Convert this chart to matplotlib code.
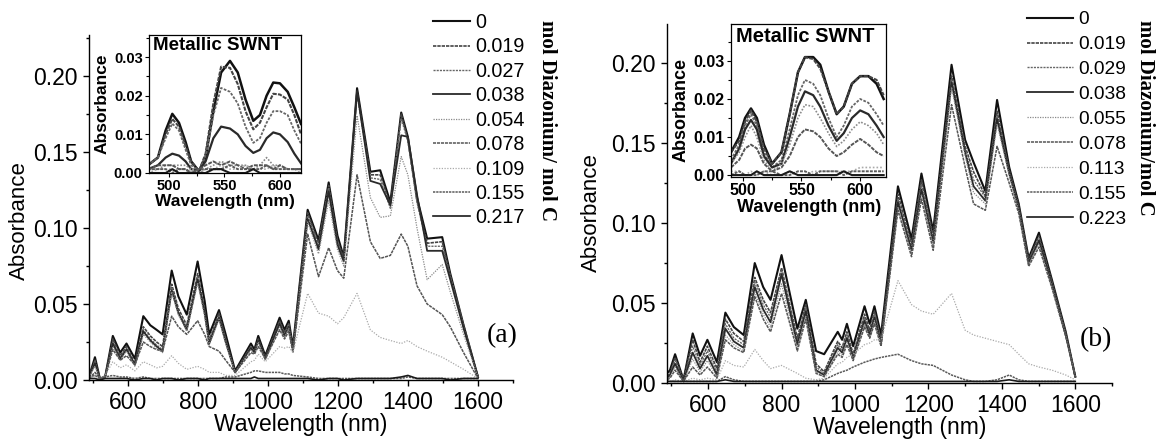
import numpy as np
import matplotlib.pyplot as plt
from matplotlib.ticker import MultipleLocator

plt.rcParams['font.family'] = ['Liberation Sans', 'DejaVu Sans']
plt.rcParams['lines.solid_joinstyle'] = 'round'
plt.rcParams['lines.dash_joinstyle'] = 'round'

# ---- panel (a): full spectra ----
wl_a = [490, 507, 521, 536, 558, 579, 597, 621, 645, 665, 683, 700, 726, 745, 769,
        800, 820, 833, 861, 880, 907, 952, 962, 973, 993, 1034, 1048, 1060, 1072,
        1114, 1145, 1174, 1199, 1217, 1255, 1293, 1321, 1350, 1381, 1400, 1426,
        1455, 1498, 1521, 1559, 1600]
a_0 = [0.002, 0.015, 0.001, 0.002, 0.029, 0.018, 0.024, 0.014, 0.042, 0.036, 0.033, 0.030,
       0.072, 0.055, 0.043, 0.078, 0.052, 0.030, 0.046, 0.030, 0.006, 0.024, 0.020, 0.029,
       0.016, 0.041, 0.033, 0.039, 0.022, 0.112, 0.092, 0.130, 0.095, 0.081, 0.192, 0.137,
       0.138, 0.117, 0.176, 0.160, 0.120, 0.093, 0.094, 0.070, 0.036, 0.002]
a_019 = [0.002, 0.013, 0.001, 0.002, 0.027, 0.016, 0.022, 0.011, 0.035, 0.029, 0.025, 0.022,
         0.063, 0.047, 0.036, 0.070, 0.046, 0.026, 0.044, 0.027, 0.005, 0.022, 0.019, 0.027,
         0.015, 0.039, 0.031, 0.037, 0.021, 0.110, 0.090, 0.128, 0.092, 0.080, 0.190, 0.135,
         0.135, 0.115, 0.175, 0.158, 0.118, 0.090, 0.091, 0.069, 0.036, 0.002]
a_027 = [0.002, 0.012, 0.001, 0.002, 0.025, 0.015, 0.021, 0.010, 0.033, 0.027, 0.023, 0.020,
         0.061, 0.045, 0.034, 0.068, 0.045, 0.025, 0.042, 0.026, 0.005, 0.022, 0.018, 0.026,
         0.014, 0.038, 0.030, 0.036, 0.020, 0.108, 0.088, 0.126, 0.090, 0.079, 0.188, 0.133,
         0.132, 0.113, 0.172, 0.157, 0.117, 0.088, 0.088, 0.068, 0.035, 0.002]
a_038 = [0.002, 0.011, 0.001, 0.002, 0.024, 0.014, 0.020, 0.010, 0.032, 0.026, 0.022, 0.019,
         0.059, 0.044, 0.033, 0.066, 0.044, 0.024, 0.041, 0.025, 0.005, 0.021, 0.018, 0.026,
         0.014, 0.037, 0.029, 0.035, 0.020, 0.106, 0.086, 0.124, 0.089, 0.078, 0.190, 0.131,
         0.129, 0.115, 0.161, 0.160, 0.122, 0.085, 0.085, 0.066, 0.034, 0.002]
a_054 = [0.002, 0.009, 0.001, 0.002, 0.022, 0.013, 0.019, 0.009, 0.030, 0.025, 0.021, 0.018,
         0.058, 0.043, 0.032, 0.064, 0.042, 0.023, 0.040, 0.024, 0.005, 0.020, 0.017, 0.025,
         0.013, 0.035, 0.028, 0.034, 0.019, 0.104, 0.083, 0.118, 0.086, 0.075, 0.174, 0.120,
         0.107, 0.108, 0.147, 0.135, 0.100, 0.066, 0.076, 0.058, 0.030, 0.002]
a_078 = [0.001, 0.005, 0.001, 0.002, 0.020, 0.013, 0.016, 0.010, 0.025, 0.022, 0.020, 0.019,
         0.042, 0.035, 0.030, 0.039, 0.030, 0.022, 0.019, 0.013, 0.005, 0.018, 0.017, 0.022,
         0.014, 0.033, 0.027, 0.032, 0.018, 0.096, 0.068, 0.087, 0.072, 0.067, 0.135, 0.091,
         0.080, 0.082, 0.096, 0.088, 0.062, 0.050, 0.043, 0.035, 0.018, 0.001]
a_109 = [0.001, 0.003, 0.001, 0.003, 0.012, 0.008, 0.010, 0.006, 0.012, 0.010, 0.008, 0.009,
         0.016, 0.011, 0.007, 0.009, 0.007, 0.005, 0.005, 0.003, 0.003, 0.012, 0.013, 0.017,
         0.012, 0.022, 0.021, 0.022, 0.018, 0.057, 0.044, 0.042, 0.037, 0.041, 0.057, 0.033,
         0.028, 0.026, 0.024, 0.026, 0.022, 0.019, 0.015, 0.012, 0.007, 0.001]
a_155 = [0.002, 0.003, 0.001, 0.002, 0.003, 0.002, 0.002, 0.001, 0.002, 0.001, 0.001, 0.001,
         0.001, 0.001, 0.001, 0.001, 0.001, 0.001, 0.001, 0.002, 0.002, 0.005, 0.006, 0.006,
         0.005, 0.005, 0.004, 0.004, 0.003, 0.002, 0.001, 0.001, 0.001, 0.001, 0.001, 0.001,
         0.001, 0.001, 0.001, 0.002, 0.001, 0.001, 0.001, 0.001, 0.001, 0.001]
a_217 = [0.001, 0.001, 0.000, 0.001, 0.001, 0.001, 0.001, 0.000, 0.001, 0.001, 0.000, 0.001,
         0.001, 0.000, 0.001, 0.001, 0.000, 0.001, 0.001, 0.001, 0.001, 0.001, 0.002, 0.001,
         0.001, 0.001, 0.001, 0.001, 0.001, 0.001, 0.000, 0.001, 0.001, 0.000, 0.001, 0.001,
         0.001, 0.001, 0.002, 0.003, 0.001, 0.001, 0.001, 0.000, 0.001, 0.001]
labels_a = ['0', '0.019', '0.027', '0.038', '0.054', '0.078', '0.109', '0.155', '0.217']

# panel (a) inset: metallic region
wl_ai = [481, 490, 497, 503, 509, 515, 520, 527, 533, 540, 547, 555, 562, 569, 576,
         582, 588, 594, 600, 607, 613, 619]
ai_0 = [0.002, 0.004, 0.011, 0.0153, 0.013, 0.008, 0.003, 0.0005, 0.004, 0.016, 0.026,
        0.029, 0.026, 0.019, 0.0135, 0.015, 0.020, 0.0234, 0.0232, 0.021, 0.017, 0.0127]
ai_019 = [0.002, 0.004, 0.010, 0.014, 0.012, 0.007, 0.003, 0.0005, 0.005, 0.018, 0.0275,
          0.0272, 0.023, 0.016, 0.0113, 0.013, 0.017, 0.0205, 0.0203, 0.019, 0.015, 0.010]
ai_027 = [0.002, 0.004, 0.009, 0.0128, 0.011, 0.006, 0.002, 0.0005, 0.004, 0.015, 0.022,
          0.021, 0.018, 0.012, 0.0078, 0.009, 0.013, 0.016, 0.016, 0.015, 0.011, 0.0076]
ai_038 = [0.001, 0.002, 0.004, 0.005, 0.0045, 0.003, 0.001, 0.0005, 0.003, 0.009, 0.012,
          0.0115, 0.010, 0.007, 0.0052, 0.006, 0.009, 0.0105, 0.010, 0.008, 0.005, 0.0025]
ai_054 = [0.001, 0.001, 0.002, 0.002, 0.002, 0.002, 0.001, 0.000, 0.001, 0.002, 0.003,
          0.002, 0.002, 0.002, 0.001, 0.002, 0.004, 0.002, 0.002, 0.001, 0.001, 0.001]
ai_078 = [0.001, 0.002, 0.002, 0.002, 0.001, 0.001, 0.000, 0.001, 0.002, 0.003, 0.002,
          0.003, 0.002, 0.001, 0.002, 0.002, 0.002, 0.001, 0.002, 0.001, 0.001, 0.001]
ai_109 = [0.000, 0.001, 0.001, 0.001, 0.000, 0.000, 0.001, 0.000, 0.001, 0.001, 0.002,
          0.001, 0.001, 0.002, 0.001, 0.001, 0.001, 0.002, 0.001, 0.001, 0.001, 0.000]
ai_155 = [0.001, 0.001, 0.001, 0.000, 0.001, 0.001, 0.000, 0.001, 0.001, 0.001, 0.001,
          0.002, 0.001, 0.001, 0.001, 0.001, 0.002, 0.001, 0.001, 0.001, 0.001, 0.001]
ai_217 = [0.000, 0.000, 0.000, 0.001, 0.000, 0.000, 0.000, 0.000, 0.000, 0.001, 0.001,
          0.000, 0.000, 0.000, 0.001, 0.000, 0.000, 0.000, 0.000, 0.000, 0.000, 0.000]

# ---- panel (b): full spectra ----
wl_b = [488, 496, 510, 533, 558, 578, 598, 624, 647, 670, 697, 727, 750, 770, 800, 843,
        866, 894, 916, 953, 965, 978, 995, 1026, 1040, 1053, 1071, 1117, 1154, 1181, 1213,
        1263, 1300, 1323, 1355, 1387, 1420, 1446, 1473, 1501, 1537, 1574, 1600]
b_0 = [0.006, 0.008, 0.018, 0.002, 0.031, 0.017, 0.027, 0.013, 0.044, 0.035, 0.030, 0.075,
       0.060, 0.052, 0.080, 0.034, 0.052, 0.020, 0.018, 0.032, 0.027, 0.037, 0.023, 0.048,
       0.037, 0.048, 0.030, 0.123, 0.090, 0.131, 0.095, 0.199, 0.152, 0.138, 0.120, 0.177,
       0.135, 0.112, 0.078, 0.094, 0.064, 0.032, 0.004]
b_019 = [0.004, 0.006, 0.016, 0.002, 0.027, 0.013, 0.023, 0.009, 0.040, 0.031, 0.026, 0.066,
         0.052, 0.044, 0.072, 0.028, 0.049, 0.012, 0.007, 0.026, 0.022, 0.032, 0.018, 0.043,
         0.033, 0.045, 0.027, 0.118, 0.087, 0.127, 0.092, 0.192, 0.148, 0.132, 0.117, 0.170,
         0.133, 0.111, 0.077, 0.092, 0.063, 0.031, 0.004]
b_029 = [0.003, 0.005, 0.014, 0.001, 0.023, 0.011, 0.020, 0.007, 0.037, 0.028, 0.024, 0.063,
         0.049, 0.041, 0.070, 0.026, 0.047, 0.010, 0.006, 0.024, 0.020, 0.030, 0.017, 0.041,
         0.031, 0.043, 0.026, 0.115, 0.085, 0.124, 0.090, 0.190, 0.146, 0.127, 0.116, 0.167,
         0.132, 0.110, 0.076, 0.090, 0.062, 0.031, 0.004]
b_038 = [0.003, 0.005, 0.012, 0.001, 0.019, 0.009, 0.017, 0.005, 0.034, 0.026, 0.022, 0.060,
         0.046, 0.038, 0.068, 0.024, 0.045, 0.008, 0.005, 0.022, 0.019, 0.028, 0.016, 0.039,
         0.030, 0.041, 0.025, 0.113, 0.083, 0.121, 0.088, 0.188, 0.144, 0.123, 0.114, 0.165,
         0.131, 0.109, 0.075, 0.089, 0.061, 0.030, 0.004]
b_055 = [0.002, 0.004, 0.010, 0.001, 0.015, 0.007, 0.014, 0.004, 0.030, 0.024, 0.020, 0.057,
         0.043, 0.035, 0.062, 0.022, 0.042, 0.007, 0.004, 0.020, 0.017, 0.026, 0.015, 0.037,
         0.029, 0.039, 0.024, 0.110, 0.081, 0.118, 0.086, 0.185, 0.142, 0.119, 0.112, 0.162,
         0.130, 0.108, 0.074, 0.087, 0.060, 0.030, 0.004]
b_078 = [0.002, 0.003, 0.008, 0.001, 0.010, 0.005, 0.010, 0.003, 0.027, 0.022, 0.019, 0.054,
         0.040, 0.032, 0.056, 0.020, 0.040, 0.006, 0.004, 0.018, 0.016, 0.024, 0.014, 0.035,
         0.028, 0.037, 0.023, 0.108, 0.079, 0.115, 0.083, 0.174, 0.135, 0.112, 0.108, 0.148,
         0.125, 0.106, 0.073, 0.085, 0.059, 0.029, 0.004]
b_113 = [0.001, 0.001, 0.002, 0.001, 0.003, 0.002, 0.003, 0.002, 0.014, 0.011, 0.010, 0.021,
         0.014, 0.009, 0.011, 0.006, 0.003, 0.002, 0.003, 0.012, 0.013, 0.016, 0.018, 0.024,
         0.025, 0.027, 0.027, 0.064, 0.049, 0.045, 0.043, 0.056, 0.033, 0.030, 0.028, 0.026,
         0.024, 0.018, 0.012, 0.010, 0.008, 0.005, 0.002]
b_155 = [0.001, 0.001, 0.001, 0.001, 0.001, 0.001, 0.001, 0.001, 0.004, 0.002, 0.001, 0.001,
         0.001, 0.001, 0.001, 0.001, 0.001, 0.001, 0.002, 0.006, 0.007, 0.008, 0.010, 0.013,
         0.014, 0.015, 0.016, 0.018, 0.014, 0.012, 0.011, 0.005, 0.002, 0.001, 0.001, 0.002,
         0.005, 0.002, 0.001, 0.001, 0.001, 0.001, 0.001]
b_223 = [0.001, 0.001, 0.001, 0.001, 0.001, 0.001, 0.001, 0.001, 0.002, 0.001, 0.001, 0.001,
         0.001, 0.001, 0.001, 0.001, 0.001, 0.001, 0.001, 0.001, 0.001, 0.001, 0.001, 0.001,
         0.001, 0.001, 0.001, 0.001, 0.001, 0.001, 0.001, 0.001, 0.001, 0.001, 0.001, 0.001,
         0.002, 0.001, 0.001, 0.001, 0.001, 0.001, 0.001]
labels_b = ['0', '0.019', '0.029', '0.038', '0.055', '0.078', '0.113', '0.155', '0.223']

# panel (b) inset: metallic region
wl_bi = [490, 497, 502, 507, 512, 518, 525, 533, 540, 547, 553, 560, 566, 573, 580,
         586, 593, 600, 607, 614, 620]
bi_0 = [0.006, 0.010, 0.015, 0.0175, 0.015, 0.008, 0.003, 0.006, 0.016, 0.027, 0.031,
        0.031, 0.029, 0.022, 0.016, 0.018, 0.024, 0.026, 0.026, 0.024, 0.020]
bi_019 = [0.006, 0.009, 0.014, 0.017, 0.014, 0.007, 0.003, 0.006, 0.016, 0.027, 0.031,
          0.0305, 0.028, 0.022, 0.016, 0.018, 0.024, 0.026, 0.026, 0.025, 0.021]
bi_029 = [0.004, 0.008, 0.013, 0.016, 0.013, 0.006, 0.002, 0.004, 0.012, 0.021, 0.025,
          0.024, 0.021, 0.015, 0.010, 0.013, 0.018, 0.020, 0.019, 0.016, 0.013]
bi_038 = [0.003, 0.007, 0.012, 0.0145, 0.012, 0.005, 0.002, 0.003, 0.010, 0.018, 0.022,
          0.021, 0.018, 0.013, 0.009, 0.011, 0.015, 0.017, 0.016, 0.013, 0.010]
bi_055 = [0.003, 0.006, 0.010, 0.013, 0.010, 0.004, 0.001, 0.003, 0.008, 0.015, 0.0185,
          0.018, 0.015, 0.011, 0.0075, 0.009, 0.012, 0.014, 0.013, 0.011, 0.008]
bi_078 = [0.002, 0.004, 0.007, 0.008, 0.007, 0.003, 0.001, 0.002, 0.005, 0.010, 0.012,
          0.0115, 0.010, 0.007, 0.005, 0.006, 0.008, 0.0095, 0.008, 0.006, 0.005]
bi_113 = [0.001, 0.001, 0.000, 0.001, 0.000, 0.001, 0.000, 0.000, 0.001, 0.000, 0.000,
          0.001, 0.001, 0.001, 0.001, 0.001, 0.001, 0.002, 0.002, 0.002, 0.002]
bi_155 = [0.000, 0.001, 0.000, 0.000, 0.000, 0.001, 0.001, 0.000, 0.000, 0.001, 0.001,
          0.000, 0.001, 0.001, 0.001, 0.000, 0.001, 0.001, 0.001, 0.001, 0.001]
bi_223 = [0.000, 0.000, 0.000, 0.000, 0.001, 0.000, 0.000, 0.000, 0.001, 0.000, 0.000,
          0.000, 0.000, 0.000, 0.000, 0.001, 0.000, 0.000, 0.000, 0.000, 0.000]

# line look for each concentration (same order in both panels)
styles = [
    dict(color='#111111', ls='-', lw=1.5),
    dict(color='#444444', ls=(0, (2, 0.6)), lw=1.2),
    dict(color='#666666', ls=(0, (1.5, 0.8)), lw=1.0),
    dict(color='#2a2a2a', ls='-', lw=1.3),
    dict(color='#8a8a8a', ls=(0, (1, 1)), lw=0.9),
    dict(color='#555555', ls=(0, (2, 0.6)), lw=1.1),
    dict(color='#aaaaaa', ls=(0, (1, 1.2)), lw=0.9),
    dict(color='#5a5a5a', ls=(0, (1.5, 0.6)), lw=1.1),
    dict(color='#1a1a1a', ls='-', lw=1.2),
]

W, H = 1157, 446
fig = plt.figure(figsize=(W / 100, H / 100), dpi=100)


def px_rect(l, t, r, b):
    return [l / W, 1 - b / H, (r - l) / W, (b - t) / H]


def draw_panel(wl, curves, wl_in, curves_in, labels, lay):
    ax = fig.add_axes(px_rect(*lay['rect']))
    handles = []
    for y, st in zip(curves, styles):
        h, = ax.plot(wl, y, color=st['color'], ls=st['ls'], lw=st['lw'])
        handles.append(h)
    ax.set_xlim(*lay['xlim'])
    ax.set_ylim(*lay['ylim'])
    for s in ['top', 'right']:
        ax.spines[s].set_visible(False)
    for s in ['left', 'bottom']:
        ax.spines[s].set_linewidth(1.0)
    ax.set_xticks([600, 800, 1000, 1200, 1400, 1600])
    ax.set_yticks([0, 0.05, 0.10, 0.15, 0.20],
                  ['0.00', '0.05', '0.10', '0.15', '0.20'])
    ax.xaxis.set_minor_locator(MultipleLocator(100))
    ax.yaxis.set_minor_locator(MultipleLocator(0.025))
    ax.tick_params(which='major', direction='out', length=4, width=1,
                   labelsize=16.5, pad=4)
    ax.tick_params(which='minor', direction='out', length=2.5, width=1)
    ax.set_ylabel('Absorbance', fontsize=16)
    ax.set_xlabel('Wavelength (nm)', fontsize=16.5)
    ax.yaxis.set_label_coords(*lay['ylab'])
    ax.xaxis.set_label_coords(*lay['xlab'])

    # inset with the metallic band
    axi = fig.add_axes(px_rect(*lay['in_rect']))
    for y, st in zip(curves_in, styles):
        axi.plot(wl_in, y, color=st['color'], ls=st['ls'], lw=st['lw'] + 0.3)
    axi.set_xlim(*lay['in_xlim'])
    axi.set_ylim(*lay['in_ylim'])
    fs = lay['in_tick']
    axi.set_xticks([500, 550, 600], ['500', '550', '600'],
                   fontweight='bold', fontsize=fs)
    axi.set_yticks([0, 0.01, 0.02, 0.03], ['0.00', '0.01', '0.02', '0.03'],
                   fontweight='bold', fontsize=fs)
    axi.xaxis.set_minor_locator(MultipleLocator(25))
    axi.yaxis.set_minor_locator(MultipleLocator(0.005))
    axi.tick_params(which='major', direction='out', length=3, width=0.8, pad=1.5)
    axi.tick_params(which='minor', direction='out', length=2, width=0.8)
    for s in axi.spines.values():
        s.set_linewidth(0.9)
    axi.set_ylabel('Absorbance', fontsize=lay['in_lab'], fontweight='bold')
    axi.set_xlabel('Wavelength (nm)', fontsize=lay['in_lab'], fontweight='bold')
    axi.yaxis.set_label_coords(*lay['in_ylab'])
    axi.xaxis.set_label_coords(*lay['in_xlab'])
    axi.text(lay['in_title_xy'][0], lay['in_title_xy'][1], 'Metallic SWNT',
             transform=axi.transAxes, ha='left', va='top',
             fontsize=lay['in_title'], fontweight='bold')

    lx, ly = lay['leg_xy']
    fig.legend(handles, labels, loc='upper left',
               bbox_to_anchor=(lx / W, 1 - ly / H),
               frameon=False, fontsize=lay['leg_size'],
               handlelength=lay['leg_hl'], handletextpad=0.25,
               labelspacing=lay['leg_sp'], borderpad=0, borderaxespad=0)
    tx, ty = lay['title_xy']
    fig.text(tx / W, 1 - ty / H, lay['title'], rotation=-90,
             ha='center', va='center', fontsize=lay['title_size'],
             fontweight='bold', family=['Liberation Serif', 'DejaVu Serif'])
    gx, gy = lay['tag_xy']
    fig.text(gx / W, 1 - gy / H, lay['tag'], ha='center', va='center',
             fontsize=20, family=['Liberation Serif', 'DejaVu Serif'])


layout_a = dict(
    rect=(89, 35, 513, 380), in_rect=(149, 35, 301, 173),
    xlim=(490, 1700), ylim=(0, 0.227), in_xlim=(482, 619), in_ylim=(0, 0.0357),
    ylab=(-0.139, 0.461), xlab=(0.50, -0.096),
    in_tick=10.5, in_lab=12.5, in_ylab=(-0.26, 0.50), in_xlab=(0.5, -0.15),
    in_title=13.5, in_title_xy=(0.026, 0.985),
    leg_xy=(433, 13), leg_size=14.2, leg_hl=1.9, leg_sp=0.275,
    title='mol Diazonium/ mol C', title_xy=(547, 121), title_size=15,
    tag='(a)', tag_xy=(502, 336))

layout_b = dict(
    rect=(667, 24, 1112, 383), in_rect=(731, 24, 886, 177),
    xlim=(488, 1700), ylim=(0, 0.2245), in_xlim=(490, 622), in_ylim=(-0.0005, 0.0397),
    ylab=(-0.146, 0.474), xlab=(0.524, -0.093),
    in_tick=11.5, in_lab=13, in_ylab=(-0.27, 0.44), in_xlab=(0.506, -0.147),
    in_title=14.5, in_title_xy=(0.032, 0.98),
    leg_xy=(1027, 11), leg_size=13.8, leg_hl=2.4, leg_sp=0.39,
    title='mol Diazonium/mol C', title_xy=(1145, 118), title_size=15,
    tag='(b)', tag_xy=(1096, 340))

draw_panel(wl_a, [a_0, a_019, a_027, a_038, a_054, a_078, a_109, a_155, a_217],
           wl_ai, [ai_0, ai_019, ai_027, ai_038, ai_054, ai_078, ai_109, ai_155, ai_217],
           labels_a, layout_a)
draw_panel(wl_b, [b_0, b_019, b_029, b_038, b_055, b_078, b_113, b_155, b_223],
           wl_bi, [bi_0, bi_019, bi_029, bi_038, bi_055, bi_078, bi_113, bi_155, bi_223],
           labels_b, layout_b)

fig.savefig('out.png', dpi=100)
